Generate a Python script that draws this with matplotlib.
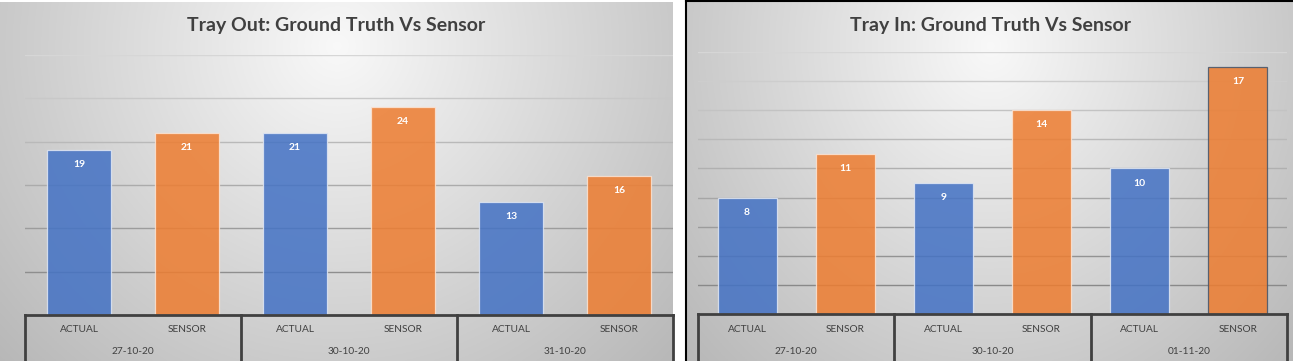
"""
Two Excel-style grouped bar charts: ground truth vs sensor counts, tray out / tray in.
Output: out.png
"""
import numpy as np
import matplotlib
matplotlib.use("Agg")
import matplotlib.pyplot as plt
import matplotlib.transforms as mtransforms

plt.rcParams.update({
    "font.family": ["Lato", "DejaVu Sans"],
    "savefig.dpi": 100,
})

# ---------- data ----------
bar_labels = ["ACTUAL", "SENSOR", "ACTUAL", "SENSOR", "ACTUAL", "SENSOR"]

out_title = "Tray Out: Ground Truth Vs Sensor"
out_dates = ["27-10-20", "30-10-20", "31-10-20"]
out_values = [19, 21, 21, 24, 13, 16]

in_title = "Tray In: Ground Truth Vs Sensor"
in_dates = ["27-10-20", "30-10-20", "01-11-20"]
in_values = [8, 11, 9, 14, 10, 17]

BLUE = "#4472C4"
ORANGE = "#ED7D31"
TEXT = "#404040"

W, H = 1293, 361


def frac(x0, y0, x1, y1):
    """pixel box (top-left origin) -> figure fraction rect"""
    return [x0 / W, 1 - y1 / H, (x1 - x0) / W, (y1 - y0) / H]


def gradient_bg(fig, rect):
    ax = fig.add_axes(rect, zorder=0)
    h, w = 200, 400
    yy, xx = np.mgrid[0:h, 0:w]
    r = np.sqrt(((xx - 0.5 * w) / (0.62 * w)) ** 2 + ((yy - 0.12 * h) / (1.15 * h)) ** 2)
    v = np.clip(0.975 - 0.23 * r, 0, 1)
    ax.imshow(np.dstack([v, v, v]), aspect="auto", extent=[0, 1, 0, 1], origin="upper")
    ax.set_axis_off()
    return ax


def draw_chart(fig, rect, title, title_x, values, dates, ymax, step, edge_last=False):
    ax = fig.add_axes(rect, zorder=2)
    ax.set_facecolor("none")
    x = np.arange(len(values))
    ax.set_xlim(-0.5, len(values) - 0.5)
    ax.set_ylim(0, ymax)

    # gridlines, darker towards the bottom
    levels = np.arange(step, ymax + 0.01, step)
    for lv in levels:
        t = lv / ymax
        g = 0.50 + 0.34 * t
        ax.axhline(lv, color=(g, g, g), lw=1.0, zorder=0)

    colors = [BLUE if i % 2 == 0 else ORANGE for i in x]
    edges = ["#dfe6f3" if i % 2 == 0 else "#fbe3d3" for i in x]
    if edge_last:
        edges[-1] = "#44546A"
    bars = ax.bar(x, values, width=0.6, color=colors, alpha=0.86,
                  edgecolor=edges, linewidth=0.9, zorder=2)
    for b, v in zip(bars, values):
        ax.annotate(str(v), (b.get_x() + b.get_width() / 2, v),
                    xytext=(0, -10.5), textcoords="offset points",
                    ha="center", va="center", color="white",
                    fontsize=7.5, fontweight="bold", zorder=3)

    for s in ax.spines.values():
        s.set_visible(False)
    ax.set_xticks([])
    ax.set_yticks([])

    # category axis box
    trans = mtransforms.blended_transform_factory(ax.transData, ax.transAxes)
    ax.axhline(0, color="#404040", lw=2.0, zorder=4, clip_on=False)
    for d in [-0.5, 1.5, 3.5, 5.5]:
        ax.plot([d, d], [0, -0.3], color="#404040", lw=2.0, transform=trans,
                clip_on=False, zorder=4)
    ax_h = rect[3] * H
    for i, lab in enumerate(bar_labels):
        ax.text(i, -15 / ax_h, lab, transform=trans, ha="center", va="center",
                fontsize=7.3, color=TEXT)
    for j, d in enumerate(dates):
        ax.text(2 * j + 0.5, -37 / ax_h, d, transform=trans, ha="center",
                va="center", fontsize=7.3, color=TEXT)

    fig.text(title_x / W, 1 - 25 / H, title, ha="center", va="center",
             fontsize=14, fontweight="bold", color=TEXT)
    return ax


fig = plt.figure(figsize=(W / 100, H / 100), dpi=100, facecolor="white")

# chart backgrounds
gradient_bg(fig, frac(0, 2, 673, H))
gradient_bg(fig, frac(687, 2, W, H))

# border of the right chart
fig.add_artist(plt.Line2D([686 / W, 686 / W], [0, 1], color="black", lw=1.5,
                          transform=fig.transFigure))
fig.add_artist(plt.Line2D([686 / W, 1], [1 - 0.8 / H, 1 - 0.8 / H], color="black",
                          lw=1.5, transform=fig.transFigure))

draw_chart(fig, frac(25, 55, 673, 315), out_title, 336, out_values, out_dates,
           ymax=30, step=5)
draw_chart(fig, frac(698, 52, 1287, 314), in_title, 991, in_values, in_dates,
           ymax=18, step=2, edge_last=True)

fig.savefig("out.png", dpi=100, facecolor="white")
